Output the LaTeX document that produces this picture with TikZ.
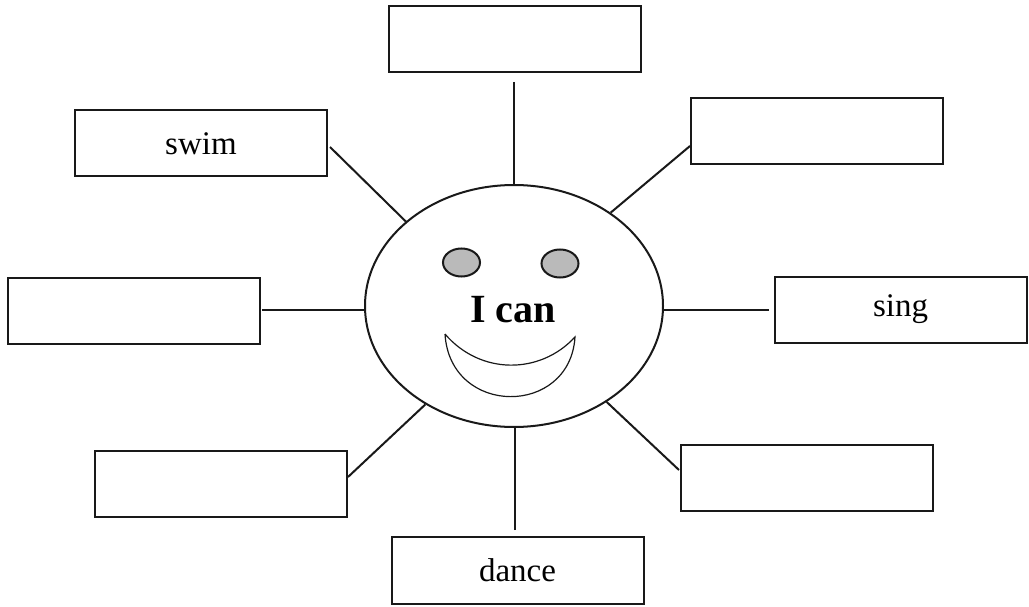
\documentclass[tikz,border=0pt]{standalone}
\usepackage{fontspec}
\setmainfont{Liberation Serif}
\usetikzlibrary{shapes.geometric}
\begin{document}
\begin{tikzpicture}[x=1pt,y=-1pt,
  wbox/.style={draw=black!90,line width=2pt,minimum width=252pt,minimum height=66pt,inner sep=0pt,font=\fontsize{33}{36}\selectfont},
  conn/.style={line width=2pt,draw=black!90},
  eye/.style={draw=black!90,line width=2pt,fill=black!27,ellipse,minimum width=37pt,minimum height=28pt,inner sep=0pt}]
\useasboundingbox (0,0) rectangle (1029,607);
% face
\node[ellipse,draw=black!90,line width=2pt,minimum width=298pt,minimum height=242pt,inner sep=0pt] (face) at (514,306) {};
\node[eye] (eyeL) at (461.5,262.5) {};
\node[eye] (eyeR) at (560,263.5) {};
\node[font=\fontsize{40}{44}\selectfont\bfseries,anchor=base] (ican) at (513,322) {I can};
\draw[line width=1.2pt,draw=black!90] (445,334) .. controls (450,417) and (570,417) .. (575,337)
   .. controls (540,375) and (480,375) .. (445,334);
% boxes
\node[wbox] (top) at (515,39) {};
\node[wbox] (ur) at (816.5,131) {};
\node[wbox] (swim) at (201,143.5) {swim};
\node[wbox] (left) at (133.5,310.5) {};
\node[wbox] (sing) at (900.5,309.5) {sing};
\node[wbox] (ll) at (221,484) {};
\node[wbox] (lr) at (807,477.5) {};
\node[wbox,minimum height=67pt] (dance) at (517.5,570.5) {dance};
% connector ends
\coordinate (cTop) at (514,82);
\coordinate (cUR) at (690,146);
\coordinate (cSwim) at (330,147);
\coordinate (cLeft) at (262,310);
\coordinate (cSing) at (769,310);
\coordinate (cLL) at (348,477);
\coordinate (cLR) at (679,470);
\coordinate (cDance) at (515,530);
\draw[conn] (cTop) -- (cTop |- face.north);
\draw[conn] (cUR) -- (face.44);
\draw[conn] (cSwim) -- (face.142);
\draw[conn] (cLeft) -- (face.west |- cLeft);
\draw[conn] (cSing) -- (face.east |- cSing);
\draw[conn] (cLL) -- (face.-132);
\draw[conn] (cLR) -- (face.-46);
\draw[conn] (cDance) -- (cDance |- face.south);
\end{tikzpicture}
\end{document}
